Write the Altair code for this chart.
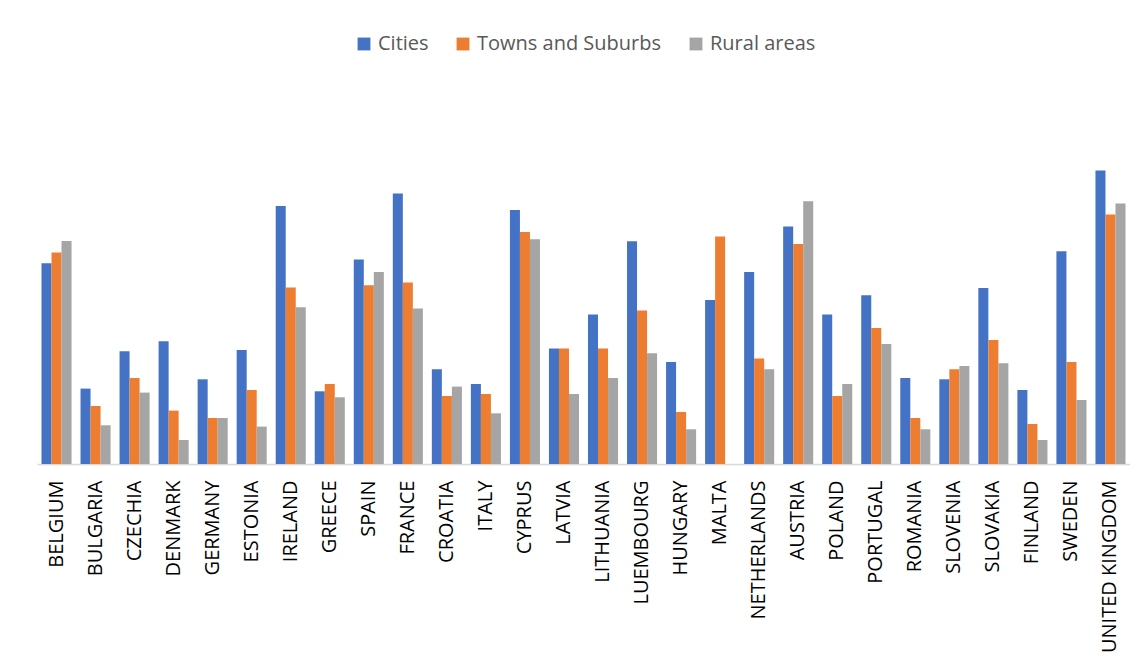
import altair as alt
import pandas as pd

countries = ["BELGIUM", "BULGARIA", "CZECHIA", "DENMARK", "GERMANY", "ESTONIA", "IRELAND",
             "GREECE", "SPAIN", "FRANCE", "CROATIA", "ITALY", "CYPRUS", "LATVIA", "LITHUANIA",
             "LUEMBOURG", "HUNGARY", "MALTA", "NETHERLANDS", "AUSTRIA", "POLAND", "PORTUGAL",
             "ROMANIA", "SLOVENIA", "SLOVAKIA", "FINLAND", "SWEDEN", "UNITED KINGDOM"]
series = ["Cities", "Towns and Suburbs", "Rural areas"]

# Values (no value axis in the original; arbitrary units)
cities = [200.7, 75.4, 112.7, 122.7, 84.7, 114.0, 258.0, 72.7, 204.4, 270.4, 94.7, 80.0, 254.0, 115.4,
          149.4, 222.7, 102.0, 164.0, 192.0, 237.4, 149.4, 168.7, 86.0, 84.7, 176.0, 74.0, 212.7, 293.4]
towns = [211.4, 58.0, 86.0, 53.4, 46.0, 74.0, 176.4, 80.0, 178.7, 181.4, 68.0, 70.0, 232.0, 115.4,
         115.4, 153.4, 52.0, 227.4, 105.4, 220.0, 68.0, 136.0, 46.0, 94.7, 124.0, 40.0, 102.0, 249.4]
rural = [223.0, 38.7, 71.4, 24.0, 46.0, 37.4, 156.7, 66.7, 192.0, 155.4, 77.4, 50.7, 224.7, 70.0,
         86.0, 110.7, 34.7, 0.0, 94.7, 262.7, 80.0, 120.0, 34.7, 98.0, 100.7, 24.0, 64.0, 260.4]

colors = ["#4472C4", "#ED7D31", "#A5A5A5"]

rows = []
for i, c in enumerate(countries):
    for s, vals in zip(series, [cities, towns, rural]):
        rows.append({"country": c, "series": s, "value": vals[i]})
df = pd.DataFrame(rows)

chart = alt.Chart(df).mark_bar().encode(
    x=alt.X("country:N", sort=countries,
            scale=alt.Scale(paddingInner=0.23, paddingOuter=0.115),
            axis=alt.Axis(title=None, labelAngle=-90, ticks=False, labelPadding=16,
                          labelFont="Open Sans", labelFontSize=20, labelColor="#000000",
                          labelLimit=300, domainColor="#D9D9D9", domainWidth=1.5, grid=False)),
    xOffset=alt.XOffset("series:N", sort=series, scale=alt.Scale(paddingInner=0, paddingOuter=0)),
    y=alt.Y("value:Q", scale=alt.Scale(domain=[0, 350], nice=False),
            axis=None),
    color=alt.Color("series:N", sort=series,
                    scale=alt.Scale(domain=series, range=colors),
                    legend=alt.Legend(title=None, orient="none", direction="horizontal",
                                      legendX=317, legendY=-80, padding=0,
                                      symbolType="square", symbolSize=165, symbolStrokeWidth=0,
                                      labelFont="Open Sans", labelFontSize=20, labelColor="#595959",
                                      labelLimit=400, labelOffset=4, columnPadding=24)),
).properties(
    width=1093, height=350,
    autosize=alt.AutoSizeParams(type="none"),
    padding={"left": 29, "top": 106, "right": 0, "bottom": 197},
    background="white",
).configure_view(stroke=None, strokeWidth=0)

chart.save("out.html", embed_options={"renderer": "svg", "actions": False})
